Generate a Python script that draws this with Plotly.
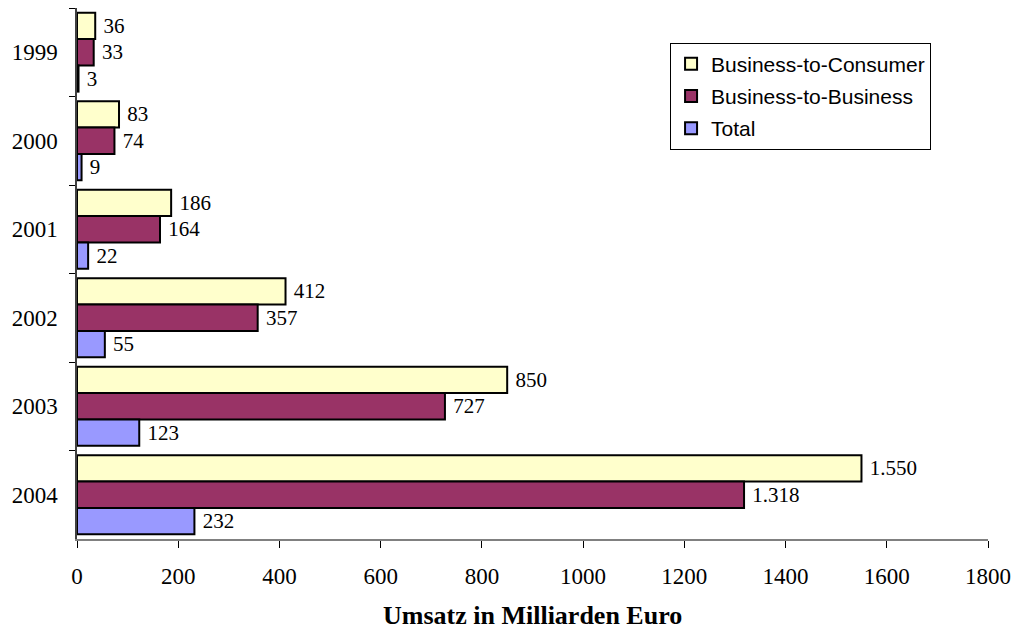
import plotly.graph_objects as go

years = ["1999", "2000", "2001", "2002", "2003", "2004"]
b2c = [36, 83, 186, 412, 850, 1550]
b2b = [33, 74, 164, 357, 727, 1318]
total = [3, 9, 22, 55, 123, 232]
series_names = ["Business-to-Consumer", "Business-to-Business", "Total"]
colors = ["#FFFFCC", "#993366", "#9999FF"]
x_ticks = [0, 200, 400, 600, 800, 1000, 1200, 1400, 1600, 1800]


def de_fmt(v):
    return " " + f"{v:,}".replace(",", ".")


fig = go.Figure()
for name, vals, col in zip(series_names, [b2c, b2b, total], colors):
    fig.add_trace(go.Bar(
        y=years, x=vals, name=name, orientation="h", legendgroup=name,
        marker=dict(color=col, line=dict(color="black", width=2)),
        text=[de_fmt(v) for v in vals], textposition="outside",
        textfont=dict(family="Liberation Serif", size=21, color="black"),
        cliponaxis=False,
    ))

fig.update_layout(
    width=1018, height=631,
    margin=dict(l=77, r=30, t=8, b=92, autoexpand=False),
    paper_bgcolor="white", plot_bgcolor="white",
    barmode="group", bargap=0.11, bargroupgap=0,
    showlegend=True,
    legend=dict(
        x=0.651, y=0.935, xanchor="left", yanchor="top",
        bordercolor="black", borderwidth=1, bgcolor="white",
        font=dict(family="Liberation Sans", size=21, color="black"),
        traceorder="grouped", tracegroupgap=2, itemwidth=30,
    ),
    annotations=[dict(
        text="<b>Umsatz in Milliarden Euro</b>", xref="paper", yref="paper",
        x=0.5, y=-0.145, xanchor="center", yanchor="middle", showarrow=False,
        font=dict(family="Liberation Serif", size=26, color="black"),
    )],
)
fig.update_xaxes(
    range=[0, 1800], tickvals=x_ticks, ticktext=[str(t) for t in x_ticks],
    showgrid=False, zeroline=False, automargin=False,
    showline=True, linecolor="#808080", linewidth=2,
    ticks="outside", ticklen=7, tickcolor="black", tickwidth=1,
    tickfont=dict(family="Liberation Serif", size=23, color="black"),
    ticklabelstandoff=8,
)
fig.update_yaxes(
    categoryorder="array", categoryarray=years, autorange="reversed",
    showgrid=False, zeroline=False, automargin=False,
    showline=True, linecolor="#404040", linewidth=1.5,
    ticks="outside", ticklen=6, tickcolor="black", tickson="boundaries",
    tickfont=dict(family="Liberation Serif", size=23, color="black"),
    ticklabelstandoff=13,
)

fig.write_html("out.html")
